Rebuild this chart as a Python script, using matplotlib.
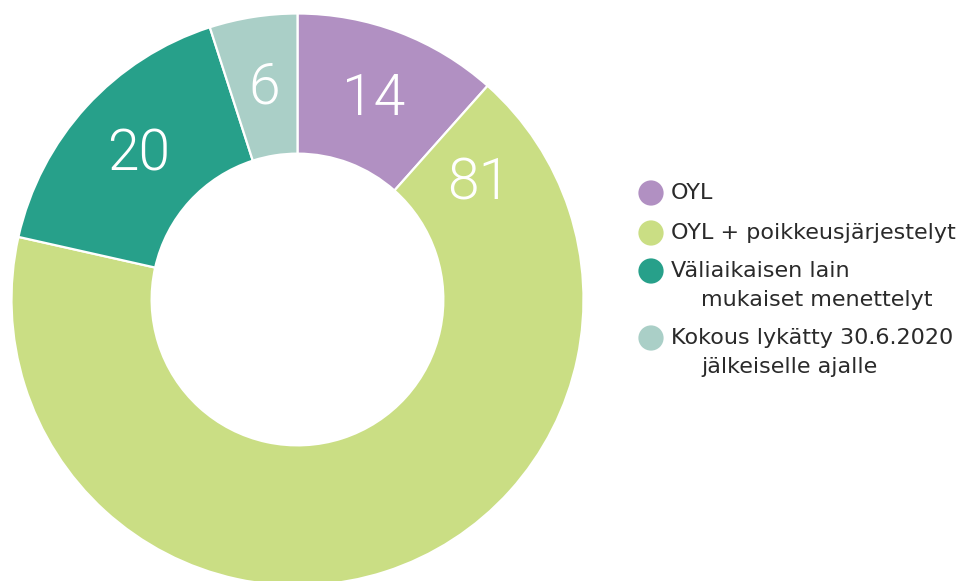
import matplotlib
matplotlib.use("Agg")
import matplotlib.pyplot as plt
import numpy as np

categories = ["OYL", "OYL + poikkeusjärjestelyt", "Väliaikaisen lain\nmukaiset menettelyt",
              "Kokous lykätty 30.6.2020\njälkeiselle ajalle"]
values = [14, 81, 20, 6]
colors = ["#b190c2", "#cade84", "#27a08a", "#aacfc7"]
# fraction of the way through each wedge at which the number label sits
label_frac = [0.5, 0.066, 0.5, 0.5]

plt.rcParams['font.family'] = ['DejaVu Sans']

W, H = 965, 581
fig = plt.figure(figsize=(W / 100, H / 100), dpi=100)
cx, cy, R = 297.5, 299.5, 286
ax = fig.add_axes([(cx - R) / W, (H - cy - R) / H, 2 * R / W, 2 * R / H])
inner = 0.51
wedges, _ = ax.pie(values, colors=colors, startangle=90, counterclock=False, radius=1,
                   wedgeprops=dict(width=1 - inner, edgecolor="white", linewidth=1.6))
ax.set_xlim(-1, 1)
ax.set_ylim(-1, 1)
ax.set_aspect("equal")
ax.axis("off")

total = sum(values)
start = 90.0
rl = 0.75
for v, f in zip(values, label_frac):
    span = v / total * 360
    ang = np.deg2rad(start - span * f)
    ax.text(rl * np.cos(ang), rl * np.sin(ang), str(v), ha="center", va="center",
            color="white", fontsize=41, fontweight=300, family=["Roboto", "DejaVu Sans"])
    start -= span

# legend
lax = fig.add_axes([0, 0, 1, 1])
lax.set_xlim(0, W)
lax.set_ylim(H, 0)
lax.axis("off")
row_y = [193, 233, 271, 338]
line_gap = 29
for c, lab, y in zip(colors, categories, row_y):
    lax.scatter([651], [y], s=330, color=c, edgecolor="none")
    lines = lab.split("\n")
    lax.text(671, y, lines[0], ha="left", va="center", fontsize=16, color="#2a2a2a")
    for i, ln in enumerate(lines[1:], 1):
        lax.text(701, y + i * line_gap, ln, ha="left", va="center", fontsize=16, color="#2a2a2a")

fig.savefig("out.png", dpi=100, facecolor="white")
